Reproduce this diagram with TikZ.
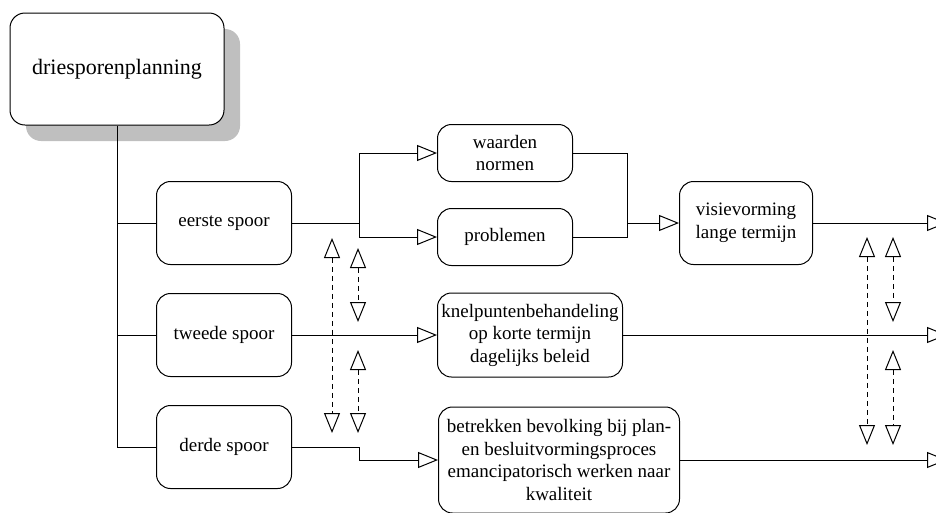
\documentclass[tikz,border=0pt]{standalone}
\usepackage{fontspec}
\setmainfont{Liberation Serif}
\usetikzlibrary{arrows.meta,shadows}

\begin{document}
\begin{tikzpicture}[x=1pt,y=-1pt,line width=1pt,
  >={Triangle[open,length=20pt,width=16pt]},
  box/.style={draw,rounded corners=14pt,fill=white,align=center,inner sep=2pt,
    font=\fontsize{19}{22.5}\selectfont},
  link/.style={<->,dash pattern=on 5pt off 4pt}]
\useasboundingbox (0,0) rectangle (936,512);
\clip (0,0) rectangle (936,512);
% sporen
\node [box,minimum width=214pt,minimum height=112pt,rounded corners=15pt,
  font=\fontsize{22}{26}\selectfont,
  drop shadow={shadow xshift=16pt,shadow yshift=-16pt,fill=black!25,opacity=1}]
  (plan) at (117,69) {driesporenplanning};
\node [box,minimum width=135pt,minimum height=83pt] (spoor1) at (224,223) {eerste spoor};
\node [box,minimum width=135pt,minimum height=83pt] (spoor2) at (224,335) {tweede spoor};
\node [box,minimum width=135pt,minimum height=83pt] (spoor3) at (224,447) {derde spoor};
% uitwerking
\node [box,minimum width=135pt,minimum height=57pt] (waarden) at (505,153) {waarden\\normen};
\node [box,minimum width=135pt,minimum height=57pt] (problemen) at (505,237) {problemen};
\node [box,minimum width=133pt,minimum height=83pt] (visie) at (746,223) {visievorming\\lange termijn};
\node [box,minimum width=185pt,minimum height=84pt] (knelpunt) at (530,335)
  {knelpuntenbehandeling\\op korte termijn\\dagelijks beleid};
\node [box,minimum width=241pt,minimum height=106pt] (bevolking) at (559,460)
  {betrekken bevolking bij plan-\\en besluitvormingsproces\\emancipatorisch werken naar\\kwaliteit};
\coordinate (samen) at (627,223);
\coordinate (uit1) at (947,223);
\coordinate (uit2) at (947,335);
\coordinate (uit3) at (947,460);
% verbindingen
\draw (plan.south) |- (spoor3.west);
\draw (plan.south |- spoor1.west) -- (spoor1.west);
\draw (plan.south |- spoor2.west) -- (spoor2.west);
\draw (spoor1.east) -- ++(67,0) coordinate (splits);
\draw [->] (splits) |- (waarden.west);
\draw [->] (splits) |- (problemen.west);
\draw (waarden.east) -| (samen);
\draw (problemen.east) -| (samen);
\draw [->] (samen) -- (visie.west);
\draw [->] (visie.east) -- (uit1);
\draw [->] (spoor2.east) -- (knelpunt.west);
\draw [->] (knelpunt.east) -- (uit2);
\draw [->] (spoor3.east) -- ++(67,0) |- (bevolking.west);
\draw [->] (bevolking.east) -- (uit3);
% wisselwerking
\coordinate (a1) at (332,238);
\coordinate (a2) at (332,433);
\coordinate (b1) at (358,248);
\coordinate (b2) at (358,322);
\coordinate (b3) at (358,350);
\coordinate (b4) at (358,433);
\coordinate (c1) at (867,237);
\coordinate (c2) at (867,445);
\coordinate (d1) at (893,237);
\coordinate (d2) at (893,322);
\coordinate (d3) at (893,350);
\coordinate (d4) at (893,445);
\draw [link] (a1) -- (a2);
\draw [link] (b1) -- (b2);
\draw [link] (b3) -- (b4);
\draw [link] (c1) -- (c2);
\draw [link] (d1) -- (d2);
\draw [link] (d3) -- (d4);
\end{tikzpicture}
\end{document}
